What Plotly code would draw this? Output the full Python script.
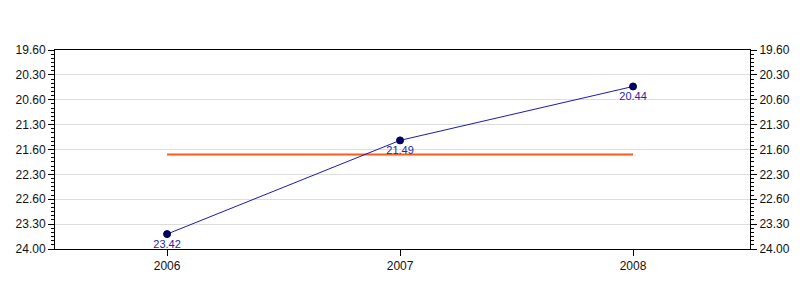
import plotly.graph_objects as go

years = [2006, 2007, 2008]
time_labels = ["23.42", "21.49", "20.44"]   # min.sec
avg_label = "22.06"
tick_labels = ["19.60", "20.30", "20.60", "21.30", "21.60", "22.30", "22.60", "23.30", "24.00"]
tick_minutes = [20.0, 20.5, 21.0, 21.5, 22.0, 22.5, 23.0, 23.5, 24.0]


def to_min(s):
    m, sec = s.split(".")
    return int(m) + int(sec) / 60.0


vals = [to_min(s) for s in time_labels]
avg = to_min(avg_label)

font = dict(family="Liberation Sans, Arial, sans-serif", size=12, color="#111111")

fig = go.Figure()
fig.add_trace(go.Scatter(
    x=[years[0], years[-1]], y=[avg, avg], mode="lines",
    line=dict(color="#FF5A1E", width=2), hoverinfo="skip", showlegend=False))
fig.add_trace(go.Scatter(
    x=years, y=vals, mode="lines+markers+text", text=time_labels,
    textposition="bottom center",
    textfont=dict(family="Liberation Sans, Arial, sans-serif", size=11, color="#2626A8"),
    line=dict(color="#1A1AB0", width=1),
    marker=dict(size=7, color="#000070", line=dict(color="#000033", width=1)),
    showlegend=False))
fig.add_trace(go.Scatter(x=years, y=vals, yaxis="y2", mode="markers",
                         marker=dict(opacity=0), hoverinfo="skip", showlegend=False))

yax = dict(range=[24.0, 20.0], tickvals=tick_minutes, ticktext=tick_labels,
           showgrid=True, gridcolor="#DDDDDD", gridwidth=1,
           ticks="outside", ticklen=6, tickcolor="black", tickwidth=1,
           showline=True, linecolor="black", linewidth=1,
           tickfont=font, zeroline=False, automargin=False,
           minor=dict(dtick=0.5 / 6, tick0=20, ticks="outside", ticklen=3,
                      tickcolor="black", showgrid=False))

fig.update_layout(
    width=800, height=300,
    margin=dict(l=55, r=50, t=50, b=51),
    paper_bgcolor="white", plot_bgcolor="white",
    xaxis=dict(range=[2005.519, 2008.502], tickvals=years,
               ticktext=[str(y) for y in years],
               ticks="outside", ticklen=6, tickcolor="black",
               showline=True, linecolor="black", linewidth=1, mirror=True,
               showgrid=False, zeroline=False, tickfont=font, automargin=False),
    yaxis=yax,
    yaxis2={**yax, "overlaying": "y", "side": "right", "showgrid": False},
)

fig.write_html("out.html")
